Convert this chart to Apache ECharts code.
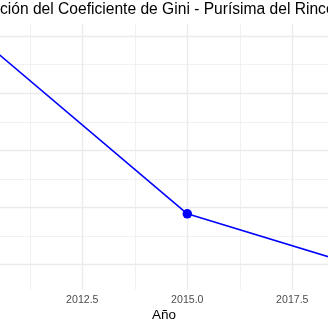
<!DOCTYPE html>
<html><head><meta charset="utf-8">
<script src="https://cdn.jsdelivr.net/npm/echarts@6/dist/echarts.min.js"></script>
<style>html,body{margin:0;padding:0;background:#fff}#c{width:328px;height:320px}</style>
</head><body><div id="c"></div>
<script>
const titleText = 'Evolución del Coeficiente de Gini - Purísima del Rincón';
const xName = 'Año';
const years = [2010, 2015, 2020];
const gini = [0.4200, 0.3578, 0.3355];
const xMajorTicks = [2010, 2012.5, 2015, 2017.5, 2020];
const xMinorTicks = [2011.25, 2013.75, 2016.25, 2018.75];
const yMajorTicks = [0.34, 0.36, 0.38, 0.40, 0.42];
const yMinorTicks = [0.35, 0.37, 0.39, 0.41];
// visible window of the (wider) panel on the x axis
const xView = [2010.54, 2018.35];

const FONT = 'Liberation Sans';
const ySpan = Math.max(...gini) - Math.min(...gini);
const yMin = Math.min(...gini) - 0.05 * ySpan;
const yMax = Math.max(...gini) + 0.05 * ySpan;

const gridMajor = {show: true, lineStyle: {color: '#ebebeb', width: 1.4}};
const gridMinor = {show: true, lineStyle: {color: '#ebebeb', width: 0.7}};

const chart = echarts.init(document.getElementById('c'), null, {renderer: 'canvas'});
chart.setOption({
  animation: false,
  backgroundColor: '#ffffff',
  title: {
    text: titleText, left: -39, top: 2, padding: 0,
    textStyle: {fontSize: 15.6, fontWeight: 'normal', color: '#000000', fontFamily: FONT}
  },
  grid: {left: 0, right: 0, top: 23.9, bottom: 30.3, containLabel: false, outerBoundsMode: 'none'},
  xAxis: [
    {
      type: 'value', min: xView[0], max: xView[1], position: 'bottom',
      axisLine: {show: false},
      axisTick: {show: false, customValues: xMajorTicks},
      axisLabel: {customValues: xMajorTicks, formatter: v => v.toFixed(1), fontSize: 10.6, color: '#4d4d4d', margin: 4.5, fontFamily: FONT},
      splitLine: gridMajor,
      name: xName, nameLocation: 'middle', nameGap: 19, nameMoveOverlap: false,
      nameTextStyle: {fontSize: 13.5, color: '#000000', fontFamily: FONT}
    },
    {
      type: 'value', min: xView[0], max: xView[1], position: 'bottom',
      axisLine: {show: false},
      axisTick: {show: false, customValues: xMinorTicks},
      axisLabel: {show: false},
      splitLine: gridMinor
    }
  ],
  yAxis: [
    {
      type: 'value', min: yMin, max: yMax,
      axisLine: {show: false},
      axisTick: {show: false, customValues: yMajorTicks},
      axisLabel: {show: false},
      splitLine: gridMajor
    },
    {
      type: 'value', min: yMin, max: yMax,
      axisLine: {show: false},
      axisTick: {show: false, customValues: yMinorTicks},
      axisLabel: {show: false},
      splitLine: gridMinor
    }
  ],
  series: [{
    type: 'line', xAxisIndex: 0, yAxisIndex: 0,
    data: years.map((y, i) => [y, gini[i]]),
    color: '#0000ff',
    lineStyle: {color: '#0000ff', width: 1.6},
    itemStyle: {color: '#0000ff'},
    symbol: 'circle', symbolSize: 9.5, showSymbol: true,
    emphasis: {disabled: true}
  }]
});
</script></body></html>
